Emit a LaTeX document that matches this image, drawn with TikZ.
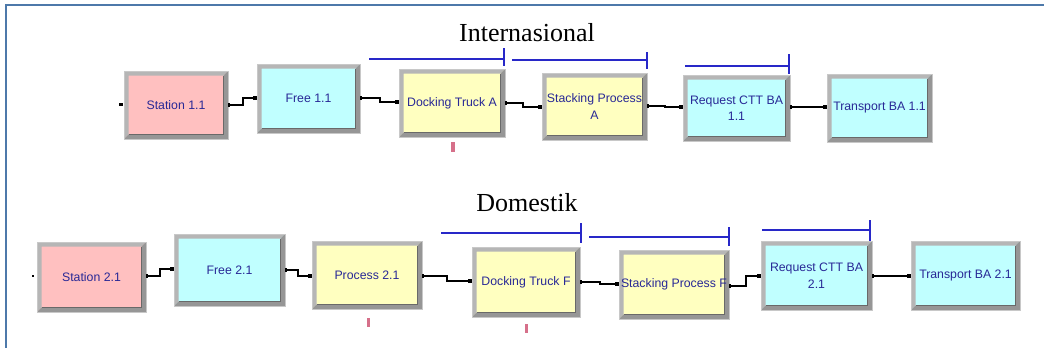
\documentclass[tikz,border=0pt]{standalone}
\usepackage{fontspec}
\setmainfont{Liberation Serif}
\newfontfamily\modulefont{Liberation Sans}
\usetikzlibrary{arrows.meta}

\pgfdeclarelayer{background}
\pgfsetlayers{background,main}

\definecolor{framecol}{RGB}{77,121,170}
\definecolor{stationpink}{RGB}{255,192,192}
\definecolor{holdcyan}{RGB}{192,255,255}
\definecolor{procyellow}{RGB}{255,255,192}
\definecolor{labelnavy}{RGB}{40,40,150}
\definecolor{barblue}{RGB}{40,40,200}
\definecolor{bevlight}{RGB}{182,182,182}
\definecolor{bevdark}{RGB}{150,150,150}
\definecolor{bevline}{RGB}{105,105,105}
\definecolor{bevedge}{RGB}{200,200,200}
\definecolor{resmark}{RGB}{214,112,138}

\tikzset{
  module/.style={rectangle, inner sep=0pt, outer sep=0pt, align=center,
    text=labelnavy, font=\modulefont\fontsize{12.3}{16.5}\selectfont},
  link/.style={draw=black, line width=1.2pt,
    {Rectangle[length=1.5pt,width=3.5pt]}-{Square[length=4pt,width=4.5pt]}},
  resbar/.style={draw=barblue, line width=1.3pt},
  title/.style={anchor=base, font=\fontsize{26}{30}\selectfont}
}

% coloured face and raised grey frame of a module, kept under its label
\newcommand\modulebevel[2]{%
  \begin{pgfonlayer}{background}
  \fill[#2] (#1.south west) rectangle (#1.north east);
  \fill[bevlight] (#1.south west) -- (#1.north west) -- (#1.north east)
    -- ([xshift=-4.5pt,yshift=-4.5pt]#1.north east)
    -- ([xshift=4.5pt,yshift=-4.5pt]#1.north west)
    -- ([xshift=4.5pt,yshift=4.5pt]#1.south west) -- cycle;
  \fill[bevdark] (#1.south west) -- (#1.south east) -- (#1.north east)
    -- ([xshift=-4.5pt,yshift=-4.5pt]#1.north east)
    -- ([xshift=-4.5pt,yshift=4.5pt]#1.south east)
    -- ([xshift=4.5pt,yshift=4.5pt]#1.south west) -- cycle;
  \draw[bevline, line width=1pt]
    ([xshift=4.5pt,yshift=4.5pt]#1.south west)
    -- ([xshift=-4.5pt,yshift=4.5pt]#1.south east)
    -- ([xshift=-4.5pt,yshift=-4.5pt]#1.north east);
  \draw[bevedge, line width=0.6pt] (#1.south west) rectangle (#1.north east);
  \end{pgfonlayer}
}

\begin{document}
\begin{tikzpicture}[x=1pt,y=-1pt]
\useasboundingbox (0,0) rectangle (1044,348);
\begin{pgfonlayer}{background}
\fill[white] (0,0) rectangle (1044,348);
\end{pgfonlayer}

% frame
\draw[framecol, line width=2pt] (6,348) -- (6,5) -- (1044,5);

% titles
\node[title] (tint) at (527,41) {Internasional};
\node[title] (tdom) at (527,211.5) {Domestik};

% upper line
\node[module, minimum width=104pt, minimum height=68pt] (s1) at (176,105) {Station 1.1};
\node[module, minimum width=103pt, minimum height=69pt] (f1) at (308.5,98.5) {Free 1.1};
\node[module, minimum width=106pt, minimum height=68pt] (d1) at (452,103) {Docking Truck A};
\node[module, minimum width=105pt, minimum height=67pt] (p1) at (594.5,106.5) {Stacking Process\\A};
\node[module, minimum width=107pt, minimum height=66pt] (r1) at (736.5,108) {Request CTT BA\\1.1};
\node[module, minimum width=105pt, minimum height=68pt] (t1) at (879.5,108) {Transport BA 1.1};

% lower line
\node[module, minimum width=109pt, minimum height=70pt] (s2) at (91.5,277) {Station 2.1};
\node[module, minimum width=111pt, minimum height=72pt] (f2) at (229.5,270) {Free 2.1};
\node[module, minimum width=110pt, minimum height=68pt] (q2) at (367,275) {Process 2.1};
\node[module, minimum width=108pt, minimum height=70pt] (d2) at (526,282) {Docking Truck F};
\node[module, minimum width=110pt, minimum height=69pt] (p2) at (674,284.5) {Stacking Process F};
\node[module, minimum width=111pt, minimum height=69pt] (r2) at (816.5,275.5) {Request CTT BA\\2.1};
\node[module, minimum width=109pt, minimum height=69pt] (t2) at (965.5,275.5) {Transport BA 2.1};

\foreach \n/\c in {s1/stationpink, f1/holdcyan, d1/procyellow, p1/procyellow,
                   r1/holdcyan, t1/holdcyan, s2/stationpink, f2/holdcyan,
                   q2/procyellow, d2/procyellow, p2/procyellow, r2/holdcyan,
                   t2/holdcyan} {\modulebevel{\n}{\c}}

% entry points of the two stations
\fill[black] ([xshift=-5pt,yshift=-0.5pt]s1.west) rectangle ([xshift=-1.5pt,yshift=2.5pt]s1.west);
\fill[black] ([xshift=-5pt,yshift=0pt]s2.west) rectangle ([xshift=-3pt,yshift=2pt]s2.west);

% connectors, upper line
\draw[link] (s1.east) -- ++(15,0) |- ([yshift=0.5pt]f1.west);
\draw[link] ([yshift=0.5pt]f1.east) -- ++(20,0) |- ([yshift=1pt]d1.west);
\draw[link] (d1.east) -- ++(18,0) |- ([yshift=-0.5pt]p1.west);
\draw[link] ([yshift=0.5pt]p1.east) -- ++(18,0) |- ([yshift=1pt]r1.west);
\draw[link] ([yshift=1pt]r1.east) -- ([yshift=1pt]t1.west);

% connectors, lower line
\draw[link] ([yshift=1pt]s2.east) -- ++(14,0) |- ([yshift=1pt]f2.west);
\draw[link] (f2.east) -- ++(13,0) |- ([yshift=-1pt]q2.west);
\draw[link] ([yshift=-1pt]q2.east) -- ++(25,0) |- ([yshift=1pt]d2.west);
\draw[link] (d2.east) -- ++(20,0) |- ([yshift=0.5pt]p2.west);
\draw[link] ([yshift=-1.5pt]p2.east) -- ++(17,0) |- ([yshift=-0.5pt]r2.west);
\draw[link] ([yshift=-0.5pt]r2.east) -- ([yshift=-0.5pt]t2.west);

% resource bars
\draw[resbar] (369,59) -- (504,59) (504,48) -- (504,66);
\draw[resbar] (512,60) -- (647,60) (647,52) -- (647,69);
\draw[resbar] (685,66) -- (789,66) (789,54) -- (789,74);
\draw[resbar] (441,233) -- (581,233) (581,223) -- (581,243);
\draw[resbar] (589,237) -- (729,237) (729,227) -- (729,246);
\draw[resbar] (762,230) -- (870,230) (870,220) -- (870,241);

% resource markers
\fill[resmark] (451,142) rectangle (454.5,151.5);
\fill[resmark] (366.5,318) rectangle (370,327);
\fill[resmark] (524.5,324) rectangle (528,333);
\end{tikzpicture}
\end{document}
